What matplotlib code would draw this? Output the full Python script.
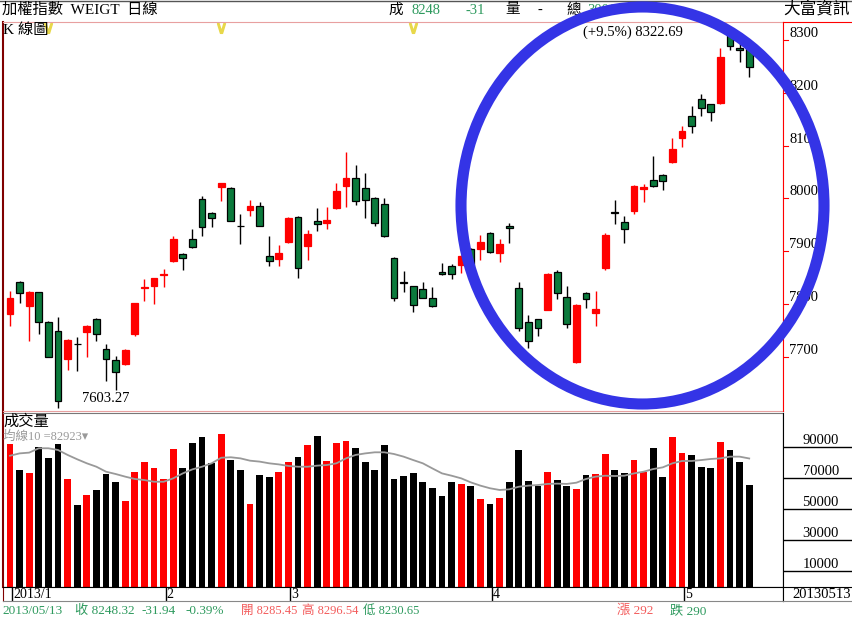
import matplotlib
matplotlib.use('Agg')
import matplotlib.pyplot as plt
from matplotlib.patches import Ellipse

plt.rcParams['font.family'] = ['Liberation Serif', 'Noto Sans CJK TC']

# daily OHLC, 2013/1 .. 2013/05/13
opens = [7781, 7841, 7796, 7822, 7765, 7748, 7696, 7724, 7746, 7772,
         7715, 7694, 7686, 7743, 7831, 7834, 7854, 7882, 7895, 7924,
         7999, 7973, 8021, 8020, 7948, 7978, 7986, 7891, 7886, 7917,
         7965, 7910, 7957, 7953, 7981, 8024, 8038, 8019, 8001, 7989,
         7887, 7842, 7834, 7828, 7811, 7860, 7872, 7874, 7905, 7904,
         7934, 7897, 7948, 7830, 7765, 7771, 7789, 7860, 7814, 7690,
         7821, 7782, 7868, 7975, 7956, 7977, 8017, 8034, 8044, 8068,
         8114, 8157, 8188, 8178, 8180, 8315, 8285, 8285.45]
highs = [7825, 7844, 7824, 7823, 7768, 7775, 7733, 7738, 7760, 7773,
         7724, 7702, 7715, 7802, 7847, 7850, 7866, 7928, 7896, 7942,
         8005, 7974, 8030, 8021, 7970, 7997, 7994, 7928, 7912, 7964,
         7966, 7940, 7982, 7984, 8029, 8088, 8063, 8048, 8002, 8000,
         7889, 7862, 7835, 7842, 7832, 7877, 7875, 7892, 7906, 7931,
         7937, 7924, 7954, 7842, 7779, 7772, 7858, 7864, 7834, 7800,
         7822, 7825, 7934, 7997, 7967, 8025, 8027, 8080, 8046, 8114,
         8138, 8175, 8198, 8179, 8284, 8322.69, 8297, 8296.54]
lows = [7759, 7801, 7730, 7743, 7699, 7603.27, 7675, 7674, 7699, 7729,
        7654, 7637, 7684, 7739, 7806, 7800, 7833, 7880, 7864, 7906,
        7928, 7945, 7996, 7957, 7914, 7967, 7947, 7872, 7872, 7916,
        7850, 7883, 7938, 7942, 7980, 7984, 7988, 7963, 7948, 7926,
        7806, 7823, 7785, 7811, 7795, 7854, 7847, 7858, 7866, 7883,
        7896, 7879, 7915, 7748, 7716, 7739, 7788, 7810, 7754, 7689,
        7792, 7758, 7864, 7952, 7915, 7970, 7994, 8022, 8015, 8067,
        8098, 8123, 8156, 8147, 8179, 8281, 8259, 8230.65]
closes = [7811, 7820, 7823, 7765, 7700, 7617, 7732, 7724, 7759, 7743,
          7696, 7672, 7713, 7801, 7833, 7849, 7856, 7923, 7888, 7907,
          7945, 7962, 8029, 7958, 7948, 7986, 7948, 7882, 7897, 7963,
          7868, 7932, 7952, 7960, 8014, 8038, 7995, 7997, 7953, 7928,
          7811, 7839, 7798, 7812, 7796, 7856, 7857, 7891, 7868, 7918,
          7898, 7914, 7943, 7754, 7729, 7754, 7857, 7821, 7763, 7799,
          7809, 7790, 7931, 7972, 7942, 8024, 8022, 8023, 8032, 8094,
          8128, 8137, 8171, 8164, 8268, 8289, 8280.26, 8248.32]
volumes = [92000, 75500, 73300, 90500, 83000, 92000, 69500, 52900, 59400, 62600,
           72900, 67500, 55700, 74400, 80400, 76500, 69700, 89000, 76500, 92700,
           96600, 79800, 98500, 81900, 75500, 53500, 72300, 70800, 74400, 80400,
           84100, 91600, 97400, 81300, 92700, 94400, 89900, 80900, 75500, 91600,
           69700, 71600, 73300, 67900, 64100, 58900, 67900, 66500, 65000, 56600,
           53500, 57200, 67900, 88400, 68400, 65000, 74000, 69000, 65000, 63000,
           72300, 72900, 85600, 75500, 73300, 81900, 74400, 89500, 70800, 96600,
           86200, 85200, 77200, 76500, 93300, 88400, 80400, 65800]
ma10 = [84700, 86200, 86700, 89500, 89500, 88400, 85200, 82400, 79800, 77600,
        74400, 72900, 71200, 69700, 69000, 67900, 67900, 70100, 73300, 75900,
        77600, 79800, 83400, 83700, 83000, 81500, 80900, 79800, 79100, 78100,
        77600, 77600, 78300, 78700, 79800, 83000, 85200, 86200, 86900, 86900,
        85800, 84100, 81900, 79800, 76500, 73300, 71800, 70100, 67500, 65400,
        63700, 62600, 63000, 64700, 65400, 65800, 66500, 66700, 66500, 67300,
        69700, 71200, 71800, 71600, 71800, 73300, 74400, 76100, 77200, 79800,
        81300, 81300, 81900, 82600, 83000, 84100, 84100, 82923]

month_starts = [0, 16, 29, 50, 70]
month_labels = ['2013/1', '2', '3', '4', '5']
price_ticks = [7700, 7800, 7900, 8000, 8100, 8200, 8300]
vol_ticks = [10000, 30000, 50000, 70000, 90000]
signal_marks = [4, 22, 42]

W, H = 852, 621
RED = '#ff0000'
DOWN_GREEN = '#0b7a3c'
TXT_GREEN = '#2e9a5e'
TXT_RED = '#f35b5b'
PINK = '#e8a0a0'
DARK_RED = '#800000'


def box(x0, y0, x1, y1):
    # pixel box (top-left origin) -> figure fraction rect
    return [x0 / W, 1 - y1 / H, (x1 - x0) / W, (y1 - y0) / H]


def ftext(x, y, s, **kw):
    return fig.text(x / W, 1 - y / H, s, va='center', **kw)


fig = plt.figure(figsize=(W / 100, H / 100), dpi=100)
fig.patch.set_facecolor('white')

n = len(closes)
idx = list(range(n))
xlim = (-0.73, 80.52)

# ---- price panel
ax = fig.add_axes(box(3, 22, 783, 411))
ax.set_xlim(*xlim)
ax.set_ylim(7597.3, 8334.1)
ax.set_xticks([])
ax.set_yticks([])
for s in ax.spines.values():
    s.set_color(PINK)
ax.spines['left'].set_color(DARK_RED)
ax.spines['left'].set_linewidth(1.5)

for i in idx:
    o, h, l, c = opens[i], highs[i], lows[i], closes[i]
    if c > o:
        body, edge, wick = RED, RED, RED
    elif c < o:
        body, edge, wick = DOWN_GREEN, 'black', 'black'
    else:
        body, edge, wick = 'black', 'black', 'black'
    ax.vlines(i, l, h, color=wick, lw=1, zorder=2)
    ax.bar(i, abs(c - o), bottom=min(o, c), width=0.72, color=body,
           edgecolor=edge, lw=0.9, zorder=3)

imax = highs.index(max(highs))
imin = lows.index(min(lows))
ax.annotate('(+9.5%%) %.2f' % highs[imax], xy=(imax, highs[imax]),
            xytext=(-34, -3), textcoords='offset points', ha='right', va='center',
            fontsize=10.5, color='black')
ax.annotate('%.2f' % lows[imin], xy=(imin, lows[imin]),
            xytext=(17, 6.5), textcoords='offset points', ha='left', va='center',
            fontsize=10.5, color='black')
ax.plot(signal_marks, [0.985] * len(signal_marks), ls='none', marker=r'$\vee$',
        ms=7, color='#e8d84a', transform=ax.get_xaxis_transform(), clip_on=False)
ax.text(0.0, 0.978, 'K 線圖', transform=ax.transAxes, fontsize=11, va='center',
        ha='left', color='black')

# price scale on the right
axr = fig.add_axes(box(783, 22, 852, 411))
axr.set_ylim(ax.get_ylim())
axr.set_xlim(0, 1)
axr.set_xticks([])
axr.set_yticks([])
for s in axr.spines.values():
    s.set_visible(False)
axr.spines['left'].set_visible(True)
axr.spines['left'].set_color(RED)
axr.spines['top'].set_visible(True)
axr.spines['top'].set_color(RED)
for p in price_ticks:
    axr.plot([0, 0.07], [p, p], color=RED, lw=0.8)
    axr.text(0.087, p, str(p), ha='left', va='bottom', fontsize=10.5)

# ---- volume panel
axv = fig.add_axes(box(3, 413, 783, 587))
axv.set_xlim(*xlim)
axv.set_ylim(0, 112258)
axv.set_xticks([])
axv.set_yticks([])
vcolors = [RED if closes[i] > opens[i] else 'black' for i in idx]
axv.bar(idx, volumes, width=0.72, color=vcolors)
axv.plot(idx, ma10, color='#999999', lw=1.3)
axv.spines['left'].set_color(DARK_RED)
axv.spines['left'].set_linewidth(1.5)
axv.spines['top'].set_color('#777777')
axv.spines['right'].set_color('black')
axv.spines['bottom'].set_color('black')
axv.text(0.0, 0.95, '成交量', transform=axv.transAxes, fontsize=11, ha='left', va='center')
axv.text(0.0, 0.865, '均線10 =%d▾' % ma10[-1], transform=axv.transAxes, fontsize=9,
         ha='left', va='center', color='#999999',
         family=['Liberation Serif', 'Noto Sans CJK TC', 'DejaVu Sans'])

axvr = fig.add_axes(box(783, 413, 852, 587))
axvr.set_ylim(axv.get_ylim())
axvr.set_xlim(0, 1)
axvr.set_xticks([])
axvr.set_yticks([])
for s in axvr.spines.values():
    s.set_visible(False)
axvr.spines['left'].set_visible(True)
for v in vol_ticks:
    axvr.axhline(v, color='black', lw=1)
    axvr.text(0.81, v, str(v), ha='right', va='bottom', fontsize=10.5)

# ---- date strip
axd = fig.add_axes(box(3, 587, 783, 601))
axd.set_xlim(*xlim)
axd.set_ylim(0, 1)
axd.set_xticks([])
axd.set_yticks([])
axd.spines['left'].set_color(DARK_RED)
axd.spines['bottom'].set_color('#888888')
for m, lab in zip(month_starts, month_labels):
    axd.axvline(m + 0.2, color='black', lw=1)
    axd.text(m + 0.3, 0.45, lab, ha='left', va='center', fontsize=10)

axdr = fig.add_axes(box(783, 587, 852, 601))
axdr.set_xticks([])
axdr.set_yticks([])
axdr.spines['bottom'].set_color('#888888')
axdr.spines['top'].set_color('black')
axdr.spines['right'].set_visible(False)
axdr.text(0.98, 0.45, '20130513', transform=axdr.transAxes, ha='right', va='center', fontsize=10.5)

# ---- header
ftext(2, 10, '加權指數  WEIGT  日線', fontsize=11)
ftext(388, 10, '成', fontsize=10.5)
ftext(411, 10, '8248', fontsize=10.5, color=TXT_GREEN)
ftext(466, 10, '-31', fontsize=10.5, color=TXT_GREEN)
ftext(505, 10, '量', fontsize=10.5)
ftext(537, 10, '-', fontsize=10.5)
ftext(566, 10, '總', fontsize=10.5)
ftext(587, 10, '3006', fontsize=10.5, color=TXT_GREEN)
ftext(850, 10, '大富資訊', fontsize=12, ha='right')
fig.add_artist(plt.Line2D([0, 1], [1 - 0.5 / H] * 2, color='#555555', lw=1))

# ---- status bar
chg = closes[-1] - closes[-2]
ftext(2, 611, '2013/05/13', fontsize=9.5, color=TXT_GREEN)
ftext(75, 611, '收 %.2f' % closes[-1], fontsize=9.5, color=TXT_GREEN)
ftext(142, 611, '%.2f' % chg, fontsize=9.5, color=TXT_GREEN)
ftext(185, 611, '%.2f%%' % (chg / closes[-2] * 100), fontsize=9.5, color=TXT_GREEN)
ftext(241, 611, '開 %.2f' % opens[-1], fontsize=9, color=TXT_RED)
ftext(302, 611, '高 %.2f' % highs[-1], fontsize=9, color=TXT_RED)
ftext(363, 611, '低 %.2f' % lows[-1], fontsize=9, color=TXT_GREEN)
ftext(617, 611, '漲 292', fontsize=9.5, color=TXT_RED)
ftext(670, 611, '跌 290', fontsize=9.5, color=TXT_GREEN)

# ---- blue highlight ring
ring = Ellipse((642.5 / W, 1 - 205.5 / H), 363 / W, 397 / H, transform=fig.transFigure,
               fill=False, edgecolor='#3434e6', lw=8, zorder=100)
fig.add_artist(ring)

fig.savefig('out.png', dpi=100)
